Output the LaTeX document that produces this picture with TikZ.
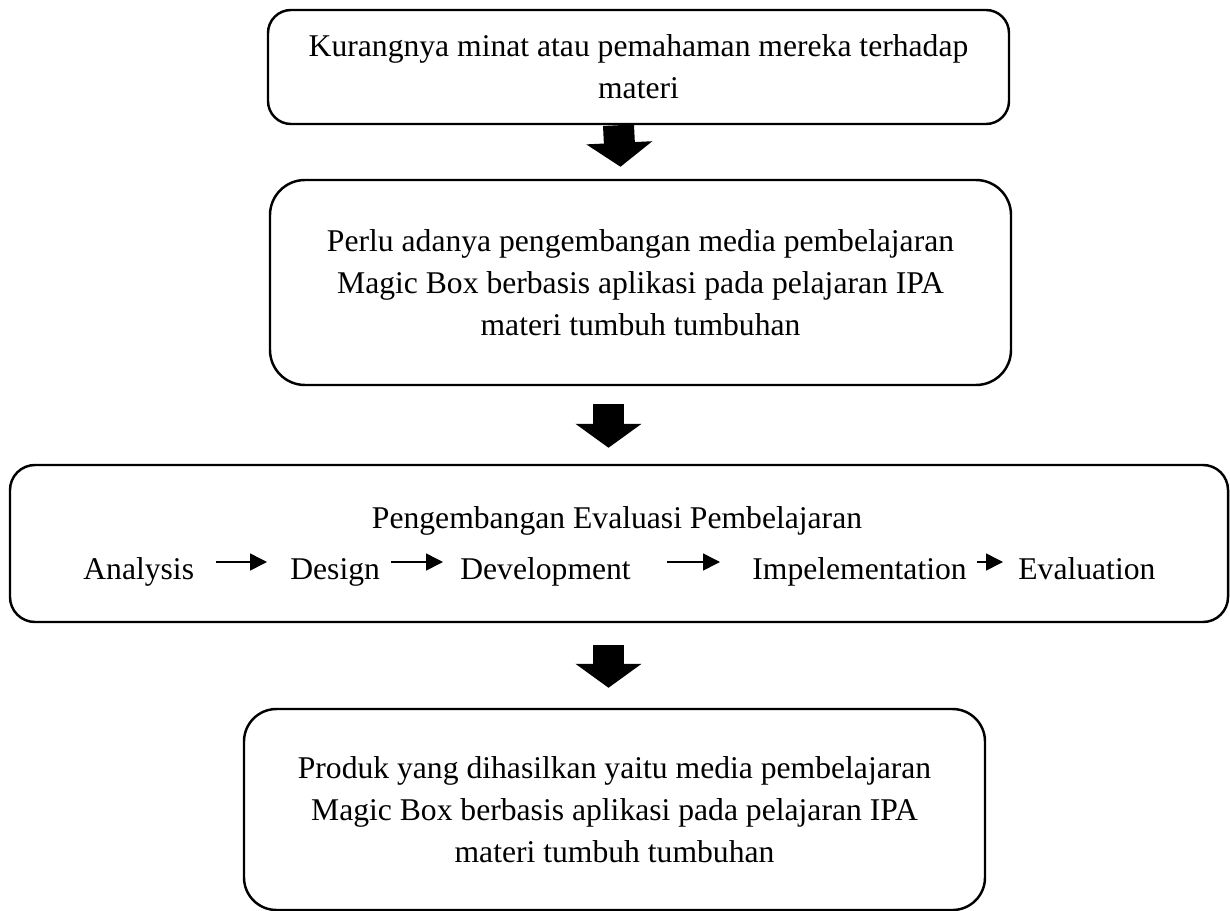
\documentclass[tikz,border=0pt]{standalone}
\usepackage{fontspec}
\setmainfont{Liberation Serif}
\usetikzlibrary{arrows.meta, positioning}

\begin{document}
\begin{tikzpicture}[
        box/.style={rectangle, draw, line width=1.4pt, align=center, minimum width=14.82cm, font=\fontsize{18}{23.8}\selectfont},
        phase/.style={inner sep=0pt, anchor=base west, font=\fontsize{18}{23.8}\selectfont},
        arrow/.style={line width=0.9pt, -{Triangle[length=0.34cm, width=0.34cm]}},
        bigarrow/.style={line width=0.62cm, -{Triangle[length=0.48cm, width=1.3cm]}}
    ]
        \useasboundingbox (0,0) rectangle (24.6,-18.22);

        \node (b1) [box, rounded corners=0.46cm, minimum height=2.28cm] at (12.77,-1.34) {Kurangnya minat atau pemahaman mereka terhadap\\materi};
        \node (b2) [box, rounded corners=0.7cm, minimum height=4.1cm] at (12.81,-5.65) {Perlu adanya pengembangan media pembelajaran\\Magic Box berbasis aplikasi pada pelajaran IPA\\materi tumbuh tumbuhan};
        \node (b3) [box, rounded corners=0.5cm, minimum width=24.36cm, minimum height=3.14cm] at (12.38,-10.87) {};
        \node (b4) [box, rounded corners=0.65cm, minimum height=4.02cm] at (12.29,-16.19) {Produk yang dihasilkan yaitu media pembelajaran\\Magic Box berbasis aplikasi pada pelajaran IPA\\materi tumbuh tumbuhan};

        % ADDIE row inside the third box
        \node (title) [phase, anchor=base] at (12.34,-10.56) {Pengembangan Evaluasi Pembelajaran};
        \node (a1) [phase] at (1.66,-11.58) {Analysis};
        \node (a2) [phase] at (5.8,-11.58) {Design};
        \node (a3) [phase] at (9.2,-11.58) {Development};
        \node (a4) [phase] at (15.04,-11.58) {Impelementation};
        \node (a5) [phase] at (20.36,-11.58) {Evaluation};

        \draw [arrow] ([shift={(0.44,0.34)}]a1.base east) -- ([shift={(-0.46,0.34)}]a2.base west);
        \draw [arrow] ([shift={(0.22,0.34)}]a2.base east) -- ([shift={(-0.34,0.34)}]a3.base west);
        \draw [arrow] ([shift={(0.72,0.34)}]a3.base east) -- ([shift={(-0.64,0.34)}]a4.base west);
        \draw [arrow] ([shift={(0.2,0.34)}]a4.base east) -- ([shift={(-0.3,0.34)}]a5.base west);

        \draw [bigarrow] ([xshift=-0.4cm]b1.south) -- ([shift={(-0.4,0.24)}]b2.north);
        \draw [bigarrow] ([shift={(-0.64,-0.36)}]b2.south) -- ([shift={(-0.21,0.32)}]b3.north);
        \draw [bigarrow] ([shift={(-0.21,-0.44)}]b3.south) -- ([shift={(-0.12,0.4)}]b4.north);
    \end{tikzpicture}
\end{document}
